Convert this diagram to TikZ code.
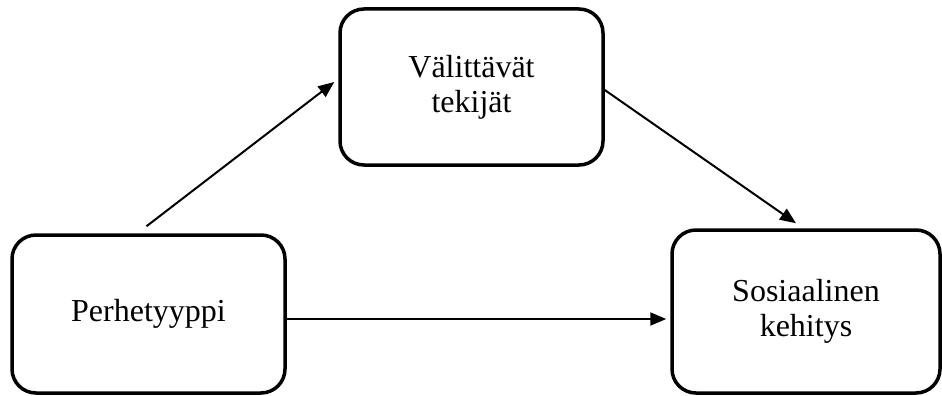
\documentclass[tikz,border=0pt]{standalone}
\usepackage{fontspec}
\setmainfont{Liberation Serif}
\usetikzlibrary{arrows.meta,calc}
\begin{document}
\begin{tikzpicture}[x=1pt,y=-1pt,
  box/.style={draw, line width=3.5pt, rounded corners=24pt, align=center,
    inner sep=0pt, font=\fontsize{32}{35}\selectfont},
  conn/.style={line width=2pt, -{Triangle[length=16pt,width=13pt]}}]
\useasboundingbox (0,0) rectangle (942,396);
\node[box, minimum width=263pt, minimum height=156pt] (mid) at (471.5,87) {Välittävät\\tekijät};
\node[box, minimum width=273pt, minimum height=158pt] (fam) at (148.5,314) {Perhetyyppi};
\node[box, minimum width=268pt, minimum height=163pt] (soc) at (806,311.5) {Sosiaalinen\\kehitys};
\draw[conn] ($(fam.north)+(-2,-7)$) -- ($(mid.west)+(-4,-5)$);
\draw[conn] ($(mid.east)+(0,3)$) -- ($(soc.north)+(-10,-5)$);
\coordinate (h1) at ($(fam.east)+(0,5)$);
\draw[conn] (h1) -- ($(h1 -| soc.west)+(-4,0)$);
\end{tikzpicture}
\end{document}
